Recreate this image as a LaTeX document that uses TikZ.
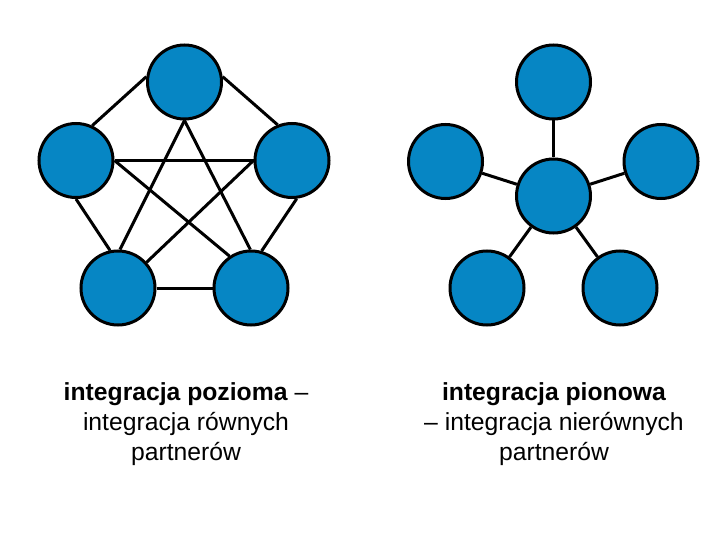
\documentclass[tikz,border=0pt]{standalone}
\usepackage{fontspec}
\setmainfont{Liberation Sans}
\usetikzlibrary{backgrounds}
\definecolor{azul}{HTML}{0686C4}

\begin{document}
\begin{tikzpicture}[x=1bp, y=-1bp, line width=3bp,
      k/.style={circle, draw=black, fill=azul, minimum size=74bp, inner sep=0pt},
      e/.style={draw=black, line width=3bp},
      lbl/.style={align=center, font=\fontsize{24.8}{30}\selectfont, anchor=base}]
    \useasboundingbox (0,0) rectangle (720,540);
    % integracja pozioma
    \node[k] (t)  at (184.5,82)  {};
    \node[k] (l)  at (76,160.5)  {};
    \node[k] (r)  at (292,160.5) {};
    \node[k] (bl) at (118,288)   {};
    \node[k] (br) at (251,288)   {};
    % integracja pionowa
    \node[k] (t2)  at (553.5,82)   {};
    \node[k] (l2)  at (445.5,161.5) {};
    \node[k] (r2)  at (661,161.5)   {};
    \node[k] (c2)  at (553.5,196)   {};
    \node[k] (bl2) at (487,288)     {};
    \node[k] (br2) at (620,288)     {};
    \begin{scope}[on background layer]
      \draw[e] (t.172) -- (l.65);
      \draw[e] (t.8) -- (r.112);
      \draw[e] (l.east) -- (r.west);
      \draw[e] (t.south) -- (bl.87);
      \draw[e] (t.south) -- (br.91);
      \draw[e] (l.east) -- (br.124);
      \draw[e] (r.west) -- (bl.42);
      \draw[e] (l.south) -- (bl.102);
      \draw[e] (r.-83) -- (br.74);
      \draw[e] (bl.east) -- (br.west);
      \foreach \n in {t2,l2,r2,bl2,br2}
        \draw[e] (c2) -- (\n);
    \end{scope}
    \node[lbl] (txtl) at (186,460) {\textbf{integracja pozioma} –\\integracja równych\\partnerów};
    \node[lbl] (txtr) at (554,460) {\textbf{integracja pionowa}\\– integracja nierównych\\partnerów};
  \end{tikzpicture}
\end{document}
